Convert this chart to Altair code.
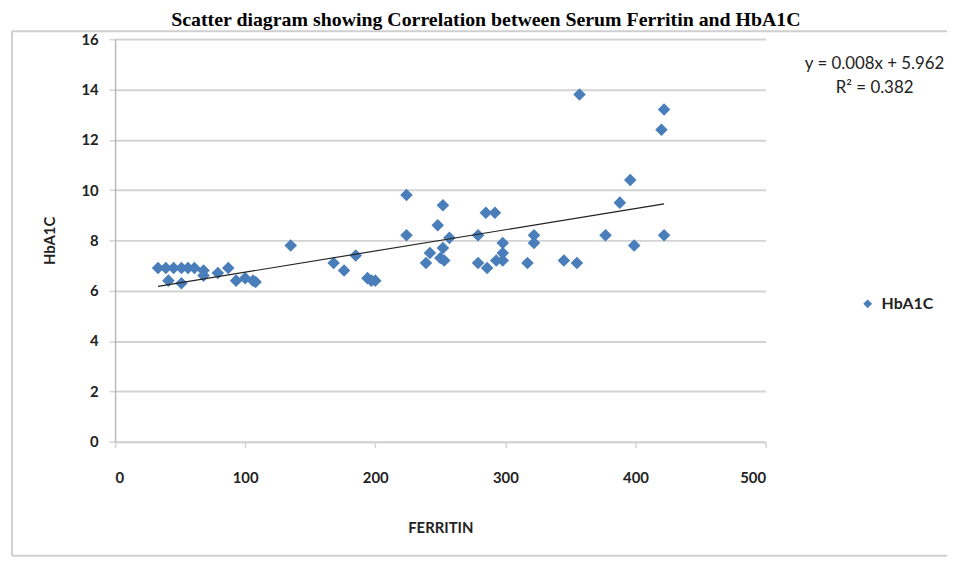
import altair as alt
import pandas as pd

ferritin = [33, 39, 41, 45, 51, 51, 56, 61, 68, 68, 79, 87, 93, 100, 106, 108,
            135, 168, 176, 185, 194, 197, 200,
            224, 224, 239, 242, 248, 252, 252, 253, 250, 257, 279, 279, 285, 292,
            286, 293, 298, 298, 298, 317, 322, 322, 345, 355, 357, 377, 388, 396,
            399, 420, 422, 422]
hba1c = [6.9, 6.9, 6.4, 6.9, 6.9, 6.3, 6.9, 6.9, 6.8, 6.6, 6.7, 6.9, 6.4, 6.5, 6.4, 6.35,
         7.8, 7.1, 6.8, 7.4, 6.5, 6.4, 6.4,
         9.8, 8.2, 7.1, 7.5, 8.6, 9.4, 7.7, 7.2, 7.3, 8.1, 8.2, 7.1, 9.1, 9.1,
         6.9, 7.2, 7.9, 7.5, 7.2, 7.1, 8.2, 7.9, 7.2, 7.1, 13.8, 8.2, 9.5, 10.4,
         7.8, 12.4, 13.2, 8.2]
series_name = "HbA1C"
title_text = ["Scatter diagram showing Correlation between Serum Ferritin and HbA1C"]
equation_lines = ["y = 0.008x + 5.962", "R\u00b2 = 0.382"]

df = pd.DataFrame({"FERRITIN": ferritin, "HbA1C": hba1c, "series": series_name})

W, H = 656, 406
FONT = "Lato"
GRID = "#d3d3d3"
FRAME = "#cfcfcf"

x_enc = alt.X("FERRITIN:Q", title="FERRITIN",
              scale=alt.Scale(domain=[0, 500], nice=False),
              axis=alt.Axis(values=[0, 100, 200, 300, 400, 500], grid=False,
                            domainColor=GRID, domainWidth=2, tickColor=GRID,
                            tickSize=6, tickWidth=1.5, labelPadding=23,
                            titlePadding=36))
y_enc = alt.Y("HbA1C:Q", title="HbA1C",
              scale=alt.Scale(domain=[0, 16], nice=False),
              axis=alt.Axis(values=list(range(0, 17, 2)), grid=True,
                            gridColor=GRID, gridWidth=2,
                            domainColor="#b8b8b8", domainWidth=1.5,
                            tickColor=GRID, tickSize=6, tickWidth=1.5,
                            labelPadding=11, titlePadding=24))

one = pd.DataFrame({"k": [0]})
frame_left = alt.Chart(one).mark_rule(color=FRAME, strokeWidth=2).encode(
    x=alt.value(-104), y=alt.value(-8), y2=alt.value(H + 115))
frame_top = alt.Chart(one).mark_rule(color=FRAME, strokeWidth=2).encode(
    x=alt.value(-104), x2=alt.value(W + 260), y=alt.value(-8))
frame_bottom = alt.Chart(one).mark_rule(color=FRAME, strokeWidth=2).encode(
    x=alt.value(-104), x2=alt.value(W + 260), y=alt.value(H + 115))

title = alt.Chart(pd.DataFrame({"t": title_text})).mark_text(
    font="Liberation Serif", fontSize=20, fontWeight="bold", color="#000",
    align="center", baseline="alphabetic"
).encode(text="t:N", x=alt.value(374), y=alt.value(-13))

points = alt.Chart(df).mark_point(shape="diamond", filled=True, size=160, opacity=1).encode(
    x=x_enc, y=y_enc,
    color=alt.Color("series:N", scale=alt.Scale(range=["#4a7ebb"]),
                    legend=alt.Legend(title=None, orient="none", legendX=751, legendY=259,
                                      symbolSize=80, labelFontSize=16, labelFont=FONT,
                                      labelFontWeight="bold", labelColor="#222",
                                      symbolType="diamond", labelOffset=6))
)

trend = alt.Chart(df).transform_regression("FERRITIN", "HbA1C").mark_line(
    color="#222222", strokeWidth=1.2
).encode(x="FERRITIN:Q", y="HbA1C:Q")

eq_df = pd.DataFrame({"line": equation_lines, "i": [0, 1]})
eq1 = alt.Chart(eq_df[eq_df.i == 0]).mark_text(
    font=FONT, fontSize=17, color="#222", align="center", baseline="middle"
).encode(text="line:N", x=alt.value(766), y=alt.value(25))
eq2 = alt.Chart(eq_df[eq_df.i == 1]).mark_text(
    font=FONT, fontSize=17, color="#222", align="center", baseline="middle"
).encode(text="line:N", x=alt.value(766), y=alt.value(49))

chart = alt.layer(frame_left, frame_top, frame_bottom, title, points, trend, eq1, eq2).properties(
    width=W, height=H,
    autosize=alt.AutoSizeParams(type="none"),
    padding={"left": 108, "top": 29, "right": 183, "bottom": 120},
).configure_view(stroke=None).configure_axis(
    labelFont=FONT, labelFontSize=15, labelFontWeight="bold", labelColor="#222",
    titleFont=FONT, titleFontSize=15, titleFontWeight="bold", titleColor="#222"
)

chart.save("out.html", embed_options={"renderer": "svg", "actions": False})
